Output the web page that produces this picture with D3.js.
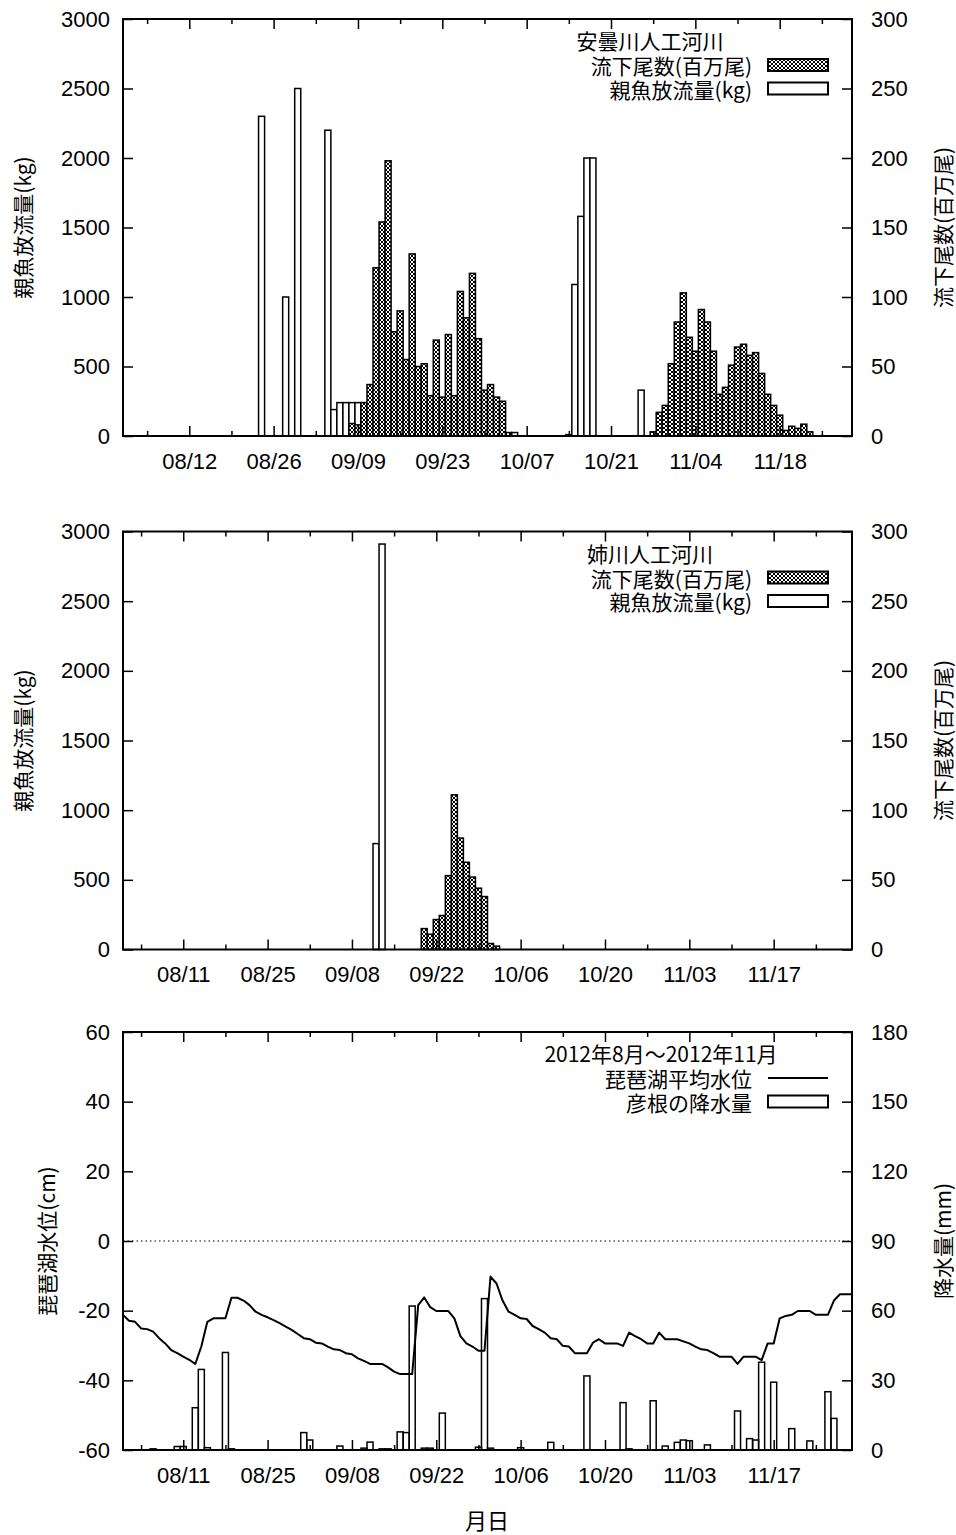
<!DOCTYPE html>
<html>
<head>
<meta charset="utf-8">
<script src="https://cdn.jsdelivr.net/npm/d3@7"></script>
<style>
body { margin: 0; background: #fff; }
.tick text { font-family: "Liberation Sans", Arial, sans-serif; font-size: 22px; fill: #000; }
.tick line { stroke: #000; stroke-width: 1.5; }
.jp { font-family: "Noto Sans CJK JP", sans-serif; font-size: 21px; fill: #000; }
</style>
</head>
<body>
<div id="chart"></div>
<script>
// 安曇川人工河川: 流下尾数(百万尾) and 親魚放流量(kg)
var adoFish = [["09/08",9],["09/09",8],["09/10",24],["09/11",37],["09/12",121],["09/13",154],["09/14",198],
  ["09/15",75],["09/16",90],["09/17",55],["09/18",131],["09/19",50],["09/20",52],["09/21",29],["09/22",69],
  ["09/23",28],["09/24",73],["09/25",29],["09/26",104],["09/27",85],["09/28",117],["09/29",70],["09/30",33],
  ["10/01",37],["10/02",28],["10/03",25],["10/04",2.5],
  ["10/28",3],["10/29",17],["10/30",22],["10/31",52],["11/01",82],["11/02",103],["11/03",71],["11/04",61],
  ["11/05",91],["11/06",82],["11/07",61],["11/08",30],["11/09",35],["11/10",51],["11/11",64],["11/12",66],
  ["11/13",58],["11/14",60],["11/15",45],["11/16",30],["11/17",22],["11/18",15],["11/19",4],["11/20",7],
  ["11/21",5.5],["11/22",8.5],["11/23",3]];
var adoParent = [["08/24",2300],["08/28",1000],["08/30",2500],["09/04",2200],["09/05",190],["09/06",240],
  ["09/07",240],["09/08",240],["09/09",240],["09/10",240],["10/05",25],["10/14",10],["10/15",1090],
  ["10/16",1580],["10/17",2000],["10/18",2000],["10/26",330]];

// 姉川人工河川
var aneFish = [["09/20",15],["09/21",11],["09/22",21.5],["09/23",24.4],["09/24",53],["09/25",111],
  ["09/26",80],["09/27",62.6],["09/28",52],["09/29",44],["09/30",38],["10/01",4.3],["10/02",2.4]];
var aneParent = [["09/12",760],["09/13",2910]];

// 琵琶湖平均水位(cm), daily from 08/01
var lakeLevel = [-21.2,-22.9,-23.2,-25.1,-25.3,-26.0,-27.9,-29.4,-31.3,-32.2,-33.2,-34.1,-35.3,-30.3,-23.2,
  -22.2,-22.2,-22.2,-16.3,-16.3,-17.1,-18.4,-20.3,-21.2,-21.9,-22.7,-23.6,-24.6,-25.5,-26.7,-27.9,-28.2,
  -29.2,-29.4,-30.3,-31.1,-31.3,-32.2,-32.5,-33.7,-34.4,-35.3,-35.3,-35.3,-36.3,-37.5,-38.2,-38.2,-38.2,
  -18.4,-16.2,-19.0,-20.1,-20.1,-20.1,-22.2,-27.3,-29.4,-30.3,-31.5,-31.5,-10.2,-12.2,-17.1,-20.3,-21.2,
  -22.2,-22.4,-24.4,-25.3,-26.3,-27.9,-28.2,-30.1,-30.3,-32.2,-32.2,-32.2,-29.2,-28.2,-29.4,-29.4,-29.4,
  -30.1,-26.3,-27.3,-28.2,-29.4,-29.4,-26.3,-28.2,-28.2,-28.2,-28.8,-29.4,-30.3,-31.1,-31.3,-32.2,-33.2,
  -33.2,-33.2,-35.3,-33.2,-33.2,-33.2,-34.2,-29.4,-29.4,-22.2,-21.5,-21.2,-20.1,-20.1,-20.1,-21.2,-21.2,
  -21.2,-17.1,-15.3,-15.3,-15.3];
// 彦根の降水量(mm)
var rain = [["08/06",0.5],["08/10",1.5],["08/11",1.5],["08/13",18.2],["08/14",34.7],["08/15",1],["08/18",42],
  ["08/19",0.5],["08/31",7.5],["09/01",4.3],["09/06",1.7],["09/10",0.8],["09/11",3.4],["09/13",0.5],
  ["09/14",0.5],["09/16",7.8],["09/17",7.5],["09/18",62],["09/20",0.8],["09/21",0.8],["09/23",15.9],
  ["09/29",1.2],["09/30",65.2],["10/01",0.8],["10/06",1],["10/11",3.3],["10/17",31.9],["10/23",20.4],
  ["10/24",0.5],["10/28",21.2],["10/30",1.7],["11/01",3.3],["11/02",4.3],["11/03",4],["11/06",2.2],
  ["11/11",16.8],["11/13",4.9],["11/14",4.3],["11/15",37.8],["11/17",29.2],["11/20",9.2],["11/23",3.9],
  ["11/26",25.1],["11/27",13.6]];

// tick labels
var topMajor = ["08/12","08/26","09/09","09/23","10/07","10/21","11/04","11/18"];
var topMinor = ["08/05","08/19","09/02","09/16","09/30","10/14","10/28","11/11","11/25"];
var lowMajor = ["08/11","08/25","09/08","09/22","10/06","10/20","11/03","11/17"];
var lowMinor = ["08/04","08/18","09/01","09/15","09/29","10/13","10/27","11/10","11/24"];
var kgTicks = [0,500,1000,1500,2000,2500,3000];
var fishTicks = [0,50,100,150,200,250,300];
var levelTicks = [-60,-40,-20,0,20,40,60];
var rainTicks = [0,30,60,90,120,150,180];

var parse = d3.utcParse("%Y/%m/%d");
function day(s) { return parse("2012/" + s); }
function plain(d) { return String(d); }

var left = 123, right = 852;
var svg = d3.select("#chart").append("svg").attr("width", 956).attr("height", 1535);

var pat = svg.append("defs").append("pattern")
    .attr("id", "hatch")
    .attr("patternUnits", "userSpaceOnUse")
    .attr("width", 4)
    .attr("height", 4);
pat.append("rect").attr("width", 4).attr("height", 4).attr("fill", "#fff");
pat.append("path").attr("d", "M0,0L4,4M4,0L0,4").attr("stroke", "#000").attr("stroke-width", 1);

var x = d3.scaleUtc().domain([day("08/01"), day("11/30")]).range([left, right]);
var bw = x(day("08/02")) - x(day("08/01"));

function bars(g, data, scale, base, fill) {
  g.append("g").selectAll("rect")
    .data(data)
    .enter().append("rect")
      .attr("x", function(d) { return x(day(d[0])) - bw / 2; })
      .attr("y", function(d) { return scale(d[1]); })
      .attr("width", bw)
      .attr("height", function(d) { return base - scale(d[1]); })
      .attr("fill", fill)
      .attr("stroke", "#000")
      .attr("stroke-width", 1.5);
}

function frame(g, cfg, y, y2) {
  g.append("rect")
    .attr("x", left).attr("y", cfg.top)
    .attr("width", right - left).attr("height", cfg.bottom - cfg.top)
    .attr("fill", "none").attr("stroke", "#000").attr("stroke-width", 2);

  function noDomain(s) { s.select(".domain").remove(); }

  g.append("g").attr("transform", "translate(0," + cfg.bottom + ")")
    .call(d3.axisBottom(x).tickValues(cfg.minor.map(day)).tickSize(-5).tickFormat("")).call(noDomain);
  g.append("g").attr("transform", "translate(0," + cfg.bottom + ")")
    .call(d3.axisBottom(x).tickValues(cfg.major.map(day)).tickSize(-10).tickPadding(17)
      .tickFormat(d3.utcFormat("%m/%d"))).call(noDomain);
  g.append("g").attr("transform", "translate(0," + cfg.top + ")")
    .call(d3.axisTop(x).tickValues(cfg.minor.map(day)).tickSize(-5).tickFormat("")).call(noDomain);
  g.append("g").attr("transform", "translate(0," + cfg.top + ")")
    .call(d3.axisTop(x).tickValues(cfg.major.map(day)).tickSize(-10).tickFormat("")).call(noDomain);

  g.append("g").attr("transform", "translate(" + left + ",0)")
    .call(d3.axisLeft(y).tickValues(cfg.yTicks).tickSize(-10).tickPadding(13).tickFormat(plain)).call(noDomain);
  g.append("g").attr("transform", "translate(" + right + ",0)")
    .call(d3.axisRight(y2).tickValues(cfg.y2Ticks).tickSize(-10).tickPadding(19).tickFormat(plain)).call(noDomain);

  var mid = (cfg.top + cfg.bottom) / 2;
  g.append("text").attr("class", "jp")
    .attr("transform", "translate(" + cfg.yTitleX + "," + mid + ") rotate(-90)")
    .attr("text-anchor", "middle").attr("dominant-baseline", "central")
    .text(cfg.yTitle);
  g.append("text").attr("class", "jp")
    .attr("transform", "translate(942," + mid + ") rotate(-90)")
    .attr("text-anchor", "middle").attr("dominant-baseline", "central")
    .text(cfg.y2Title);
}

function legend(g, cfg, items) {
  var t = cfg.top;
  g.append("text").attr("class", "jp")
    .attr("x", cfg.legendX).attr("y", t + 21)
    .attr("text-anchor", "middle").attr("dominant-baseline", "central")
    .text(cfg.legendTitle);
  items.forEach(function(it, i) {
    var cy = t + 46 + i * 23.5;
    g.append("text").attr("class", "jp")
      .attr("x", 752).attr("y", cy)
      .attr("text-anchor", "end").attr("dominant-baseline", "central")
      .text(it.label);
    if (it.kind == "line") {
      g.append("line").attr("x1", 768).attr("x2", 828).attr("y1", cy).attr("y2", cy)
        .attr("stroke", "#000").attr("stroke-width", 2);
    } else {
      g.append("rect").attr("x", 768).attr("y", cy - 6).attr("width", 60).attr("height", 12)
        .attr("fill", it.fill).attr("stroke", "#000").attr("stroke-width", 2);
    }
  });
}

function makeFishPanel(cfg, fish, parent) {
  var g = svg.append("g");
  var y = d3.scaleLinear().domain([0, 3000]).range([cfg.bottom, cfg.top]);
  var y2 = d3.scaleLinear().domain([0, 300]).range([cfg.bottom, cfg.top]);
  bars(g, parent, y, cfg.bottom, "#fff");
  bars(g, fish, y2, cfg.bottom, "url(#hatch)");
  cfg.yTicks = kgTicks; cfg.y2Ticks = fishTicks;
  cfg.yTitle = "親魚放流量(kg)"; cfg.y2Title = "流下尾数(百万尾)";
  cfg.yTitleX = 22;
  frame(g, cfg, y, y2);
  legend(g, cfg, [
    {label: "流下尾数(百万尾)", fill: "url(#hatch)"},
    {label: "親魚放流量(kg)", fill: "#fff"}
  ]);
}

makeFishPanel({top: 19, bottom: 436, major: topMajor, minor: topMinor,
  legendX: 650, legendTitle: "安曇川人工河川"}, adoFish, adoParent);
makeFishPanel({top: 531.5, bottom: 949.5, major: lowMajor, minor: lowMinor,
  legendX: 650, legendTitle: "姉川人工河川"}, aneFish, aneParent);

// lake level and rain
(function() {
  var cfg = {top: 1032, bottom: 1450, major: lowMajor, minor: lowMinor,
    legendX: 661, legendTitle: "2012年8月～2012年11月",
    yTicks: levelTicks, y2Ticks: rainTicks, yTitle: "琵琶湖水位(cm)", y2Title: "降水量(mm)", yTitleX: 46};
  var g = svg.append("g");
  var y = d3.scaleLinear().domain([-60, 60]).range([cfg.bottom, cfg.top]);
  var y2 = d3.scaleLinear().domain([0, 180]).range([cfg.bottom, cfg.top]);
  var start = day("08/01");

  g.append("line")
    .attr("x1", left).attr("x2", right).attr("y1", y(0)).attr("y2", y(0))
    .attr("stroke", "#000").attr("stroke-width", 1).attr("stroke-dasharray", "1.5,3");

  bars(g, rain, y2, cfg.bottom, "none");

  var line = d3.line()
    .x(function(d, i) { return x(d3.utcDay.offset(start, i)); })
    .y(function(d) { return y(d); });
  g.append("path")
    .attr("d", line(lakeLevel))
    .attr("fill", "none").attr("stroke", "#000").attr("stroke-width", 2)
    .attr("stroke-linejoin", "round");

  frame(g, cfg, y, y2);
  legend(g, cfg, [
    {label: "琵琶湖平均水位", kind: "line"},
    {label: "彦根の降水量", fill: "#fff"}
  ]);

  svg.append("text").attr("class", "jp")
    .attr("x", 487).attr("y", 1519)
    .attr("text-anchor", "middle").attr("dominant-baseline", "central")
    .style("font-size", "22px")
    .text("月日");
})();
</script>
</body>
</html>
